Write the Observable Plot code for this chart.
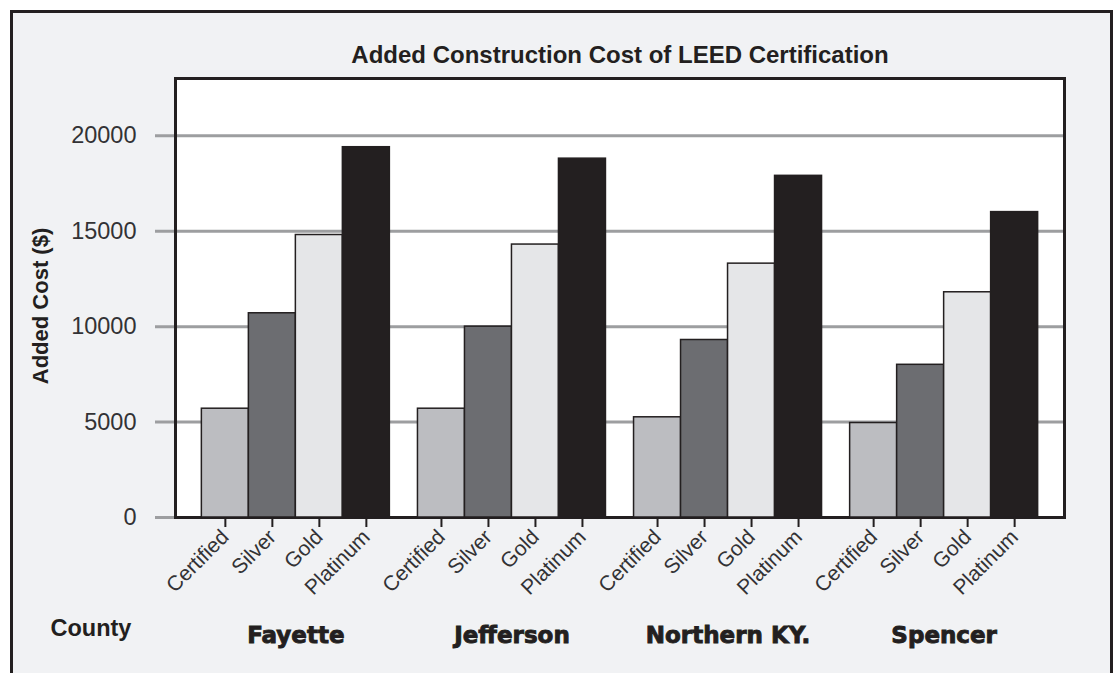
<!DOCTYPE html>
<html>
<head>
<meta charset="utf-8">
<script src="https://cdn.jsdelivr.net/npm/d3@7"></script>
<script src="https://cdn.jsdelivr.net/npm/@observablehq/plot@0.6"></script>
<style>
  html, body { margin: 0; padding: 0; background: #ffffff; overflow: hidden; }
  #page { position: relative; width: 1113px; height: 673px; overflow: hidden; }
  #box { position: absolute; left: 10px; top: 10px; width: 1103px; height: 720px;
         box-sizing: border-box; border: 3px solid #231f20; background: #f1f2f4; }
  .layer { position: absolute; left: 0; top: 0; }
  .layer svg { display: block; }
  g[aria-label="fx-axis tick label"] text { stroke: #231f20; stroke-width: 0.9px; }
</style>
</head>
<body>
<div id="page">
  <div id="box"></div>
  <div id="back" class="layer"></div>
  <div id="front" class="layer"></div>
</div>
<script>
// ---- data ----
const counties = ["Fayette", "Jefferson", "Northern KY.", "Spencer"];
const levels = ["Certified", "Silver", "Gold", "Platinum"];
const certified = [5700, 5700, 5250, 4950];
const silver = [10700, 10000, 9300, 8000];
const gold = [14800, 14300, 13300, 11800];
const platinum = [19400, 18800, 17900, 16000];
const yTicks = [0, 5000, 10000, 15000, 20000];
const titleText = "Added Construction Cost of LEED Certification";
const yLabelText = "Added Cost ($)";
const countyLabelText = "County";

const seriesByLevel = [certified, silver, gold, platinum];
const table = [];
counties.forEach((c, i) => {
  levels.forEach((l, j) => {
    table.push({county: c, level: l, value: seriesByLevel[j][i]});
  });
});

// ---- styles ----
const levelColors = ["#bcbdc1", "#6c6d71", "#e5e6e8", "#231f20"];
const ink = "#231f20";
const gridGray = "#9d9ea0";
const sans = "Liberation Sans, Arial, Helvetica, sans-serif";
const W = 1113, H = 673;
const M = {left: 175, right: 49, top: 78, bottom: 156};
const yDomain = [0, 23000];

// ---- background layer: frame, grid, y axis, titles ----
const back = Plot.plot({
  width: W, height: H,
  marginLeft: M.left, marginRight: M.right, marginTop: M.top, marginBottom: M.bottom,
  style: {background: "transparent", overflow: "visible"},
  y: {domain: yDomain},
  marks: [
    Plot.frame({fill: "white", stroke: null}),
    Plot.ruleY(yTicks, {stroke: gridGray, strokeWidth: 3, insetLeft: -20}),
    Plot.frame({stroke: ink, strokeWidth: 3}),
    Plot.axisY(yTicks, {tickSize: 0, tickPadding: 39, tickFormat: d => String(d), fontSize: 23.5,
                        fontFamily: sans, fill: "#333235", label: null}),
    Plot.text([yLabelText], {text: d => d, frameAnchor: "left", textAnchor: "middle", dx: -135, dy: 8, rotate: -90,
                             fontSize: 22, fontWeight: "bold", fontFamily: sans, fill: ink}),
    Plot.text([titleText], {text: d => d, frameAnchor: "top", textAnchor: "middle", dy: -33,
                            fontSize: 24, fontWeight: "bold", fontFamily: sans, fill: ink}),
    Plot.text([countyLabelText], {text: d => d, frameAnchor: "bottom-left", textAnchor: "start", dx: -125, dy: 118,
                                  fontSize: 23.5, fontWeight: "bold", fontFamily: sans, fill: ink})
  ]
});
document.getElementById("back").appendChild(back);

// ---- foreground layer: grouped bars ----
const front = Plot.plot({
  width: W, height: H,
  marginLeft: M.left, marginRight: M.right, marginTop: M.top, marginBottom: M.bottom,
  style: {background: "transparent", overflow: "visible"},
  fx: {domain: counties, paddingInner: 0.13, paddingOuter: 0.122, round: false, label: null},
  x: {domain: levels, padding: 0, round: false, label: null},
  y: {domain: yDomain, axis: null},
  color: {domain: levels, range: levelColors},
  marks: [
    Plot.barY(table, {fx: "county", x: "level", y: "value", fill: "level", stroke: ink, strokeWidth: 1.5}),
    Plot.axisX({tickRotate: -45, tickSize: 10, tickPadding: 6, stroke: ink, strokeWidth: 2,
                fontSize: 21, fontFamily: sans, fill: "#333235", label: null}),
    Plot.axisFx({anchor: "bottom", tickSize: 0, tickPadding: 109, fontSize: 23,
                 fontFamily: "DejaVu Sans, sans-serif", fontWeight: "bold", fill: ink, label: null})
  ]
});
document.getElementById("front").appendChild(front);
</script>
</body>
</html>
